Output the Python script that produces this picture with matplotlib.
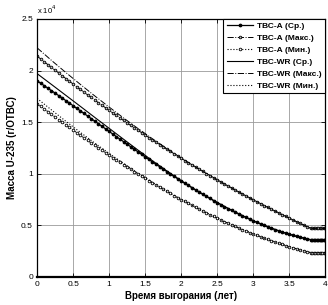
import numpy as np
import matplotlib
matplotlib.use("Agg")
import matplotlib.pyplot as plt
from matplotlib.ticker import FuncFormatter

plt.rcParams['font.family'] = ['Liberation Sans', 'DejaVu Sans']

# Time grid (years) for the TVS-A series, plus the flat tail after 3.8 years
t_a = np.round(np.linspace(0.0, 3.8, 77), 2)
t_tail = np.round(np.linspace(3.82, 4.0, 10), 2)

# U-235 mass, units of 1e4 g per assembly
a_avg = [1.900, 1.877, 1.853, 1.829, 1.805, 1.781, 1.757, 1.733, 1.708, 1.684,
         1.659, 1.634, 1.610, 1.585, 1.560, 1.535, 1.510, 1.485, 1.460, 1.435,
         1.410, 1.385, 1.360, 1.335, 1.311, 1.286, 1.261, 1.237, 1.212, 1.188,
         1.163, 1.139, 1.115, 1.092, 1.068, 1.044, 1.021, 0.998, 0.975, 0.952,
         0.930, 0.908, 0.886, 0.864, 0.843, 0.821, 0.801, 0.780, 0.760, 0.740,
         0.720, 0.701, 0.682, 0.663, 0.645, 0.627, 0.610, 0.593, 0.576, 0.560,
         0.544, 0.529, 0.514, 0.500, 0.486, 0.472, 0.459, 0.447, 0.435, 0.424,
         0.413, 0.403, 0.393, 0.384, 0.375, 0.367, 0.360]
a_max = [2.140, 2.112, 2.085, 2.057, 2.030, 2.003, 1.976, 1.949, 1.922, 1.896,
         1.869, 1.843, 1.817, 1.791, 1.765, 1.740, 1.714, 1.689, 1.664, 1.639,
         1.614, 1.590, 1.565, 1.541, 1.516, 1.492, 1.468, 1.445, 1.421, 1.398,
         1.374, 1.351, 1.328, 1.305, 1.283, 1.260, 1.238, 1.216, 1.194, 1.172,
         1.150, 1.128, 1.107, 1.086, 1.065, 1.044, 1.023, 1.002, 0.982, 0.961,
         0.941, 0.921, 0.901, 0.881, 0.862, 0.842, 0.823, 0.804, 0.785, 0.766,
         0.747, 0.729, 0.711, 0.692, 0.674, 0.656, 0.639, 0.621, 0.604, 0.586,
         0.569, 0.552, 0.535, 0.519, 0.502, 0.486, 0.470]
a_min = [1.680, 1.654, 1.628, 1.602, 1.576, 1.550, 1.524, 1.499, 1.473, 1.448,
         1.423, 1.398, 1.373, 1.348, 1.324, 1.299, 1.275, 1.251, 1.227, 1.204,
         1.180, 1.157, 1.133, 1.110, 1.088, 1.065, 1.042, 1.020, 0.998, 0.976,
         0.955, 0.933, 0.912, 0.891, 0.870, 0.850, 0.829, 0.809, 0.789, 0.769,
         0.750, 0.731, 0.712, 0.693, 0.675, 0.656, 0.639, 0.621, 0.603, 0.586,
         0.569, 0.553, 0.536, 0.520, 0.505, 0.489, 0.474, 0.459, 0.444, 0.430,
         0.416, 0.402, 0.389, 0.376, 0.363, 0.350, 0.338, 0.326, 0.315, 0.304,
         0.293, 0.282, 0.272, 0.262, 0.253, 0.244, 0.235]
tail_avg = [0.360] * 10
tail_max = [0.470] * 10
tail_min = [0.235] * 10

# TVS-WR series
t_wr = np.round(np.linspace(0.0, 4.0, 21), 2)
wr_avg = [1.970, 1.865, 1.759, 1.653, 1.546, 1.440, 1.334, 1.229, 1.126, 1.027,
          0.932, 0.843, 0.760, 0.682, 0.610, 0.544, 0.486, 0.435, 0.393, 0.360, 0.360]
wr_max = [2.220, 2.098, 1.980, 1.866, 1.754, 1.646, 1.540, 1.438, 1.339, 1.244,
          1.152, 1.065, 0.982, 0.901, 0.823, 0.747, 0.674, 0.604, 0.535, 0.470, 0.470]
wr_min = [1.730, 1.618, 1.508, 1.401, 1.297, 1.197, 1.100, 1.006, 0.917, 0.831,
          0.750, 0.675, 0.603, 0.536, 0.474, 0.416, 0.363, 0.315, 0.272, 0.235, 0.235]

labels = ['ТВС-А (Ср.)', 'ТВС-А (Макс.)', 'ТВС-А (Мин.)',
          'ТВС-WR (Ср.)', 'ТВС-WR (Макс.)', 'ТВС-WR (Мин.)']
x_ticks = [0, 0.5, 1, 1.5, 2, 2.5, 3, 3.5, 4]
y_ticks = [0, 0.5, 1, 1.5, 2, 2.5]
scale = 1e4

fig = plt.figure(figsize=(3.28, 3.05), dpi=100)
ax = fig.add_axes([0.113, 0.092, 0.879, 0.846])

ta = np.concatenate([t_a, t_tail])
def yy(v, tail):
    return np.concatenate([np.array(v), np.array(tail)]) * scale

k = 'black'
ax.plot(ta, yy(a_avg, tail_avg), '-', color=k, lw=0.9, marker='o', ms=1.7,
        mfc=k, mec=k, label=labels[0])
ax.plot(ta, yy(a_max, tail_max), '-.', color=k, lw=0.7, marker='o', ms=1.9,
        mfc='#bbbbbb', mec=k, mew=0.6, label=labels[1])
ax.plot(ta, yy(a_min, tail_min), ':', color=k, lw=0.8, marker='o', ms=1.9,
        mfc='white', mec=k, mew=0.6, label=labels[2])
ax.plot(t_wr, np.array(wr_avg) * scale, '-', color=k, lw=0.8, label=labels[3])
ax.plot(t_wr, np.array(wr_max) * scale, '-.', color=k, lw=0.7, label=labels[4])
ax.plot(t_wr, np.array(wr_min) * scale, ':', color=k, lw=0.8, label=labels[5])

ax.set_xlim(0, 4)
ax.set_ylim(0, 2.5 * scale)
ax.set_xticks(x_ticks)
ax.set_yticks([v * scale for v in y_ticks])
ax.xaxis.set_major_formatter(FuncFormatter(lambda v, p: f'{v:g}'))
ax.yaxis.set_major_formatter(FuncFormatter(lambda v, p: f'{v / scale:g}'))
ax.tick_params(direction='in', length=3, width=0.6, labelsize=6,
               top=True, right=True, pad=3)
ax.grid(True, color='#9a9a9a', lw=0.6)
ax.set_axisbelow(True)
for s in ax.spines.values():
    s.set_linewidth(0.9)
ax.spines['bottom'].set_linewidth(1.6)

ax.set_xlabel('Время выгорания (лет)', fontsize=7, fontweight='bold', labelpad=2)
ax.set_ylabel('Масса U-235 (г/ОТВС)', fontsize=7, fontweight='bold', labelpad=3)
ax.text(0.0, 1.012, r'x 10$^4$', transform=ax.transAxes, fontsize=5.5,
        ha='left', va='bottom')

leg = ax.legend(loc='upper right', fontsize=6, frameon=True, fancybox=False,
                edgecolor='black', framealpha=1, borderaxespad=0,
                handlelength=3.2, handletextpad=0.5, labelspacing=0.5,
                borderpad=0.4, numpoints=1, prop={'weight': 'bold', 'size': 6})
leg.get_frame().set_linewidth(0.8)

fig.savefig('out.png', dpi=100)
